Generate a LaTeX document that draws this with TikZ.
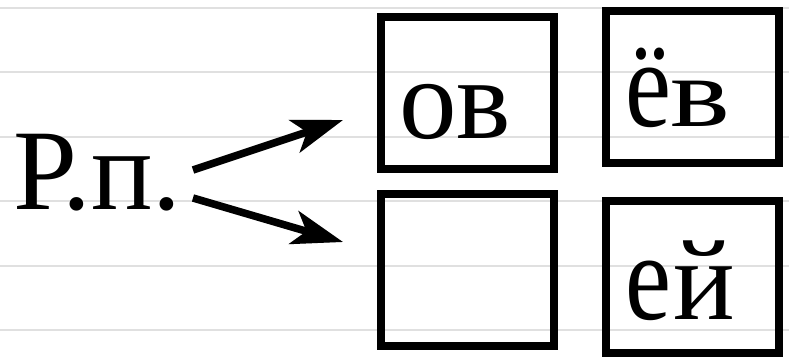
\documentclass[tikz,border=0pt]{standalone}
\usepackage{fontspec}
\usepackage{graphicx}
\setmainfont{Liberation Serif}
\usetikzlibrary{arrows.meta}
\begin{document}
\begin{tikzpicture}[x=1pt,y=-1pt,
  rule/.style={draw=black!12, line width=2.5pt},
  cell/.style={draw=black, line width=8pt, minimum width=173pt, minimum height=152pt, inner sep=0pt, outer sep=0pt},
  big/.style={font=\rmfamily\fontsize{115}{115}\selectfont, inner sep=0pt, outer sep=0pt, anchor=base west},
  arr/.style={line width=7.5pt, -{Stealth[length=51pt,width=34pt,inset=13pt]}},
  arrshadow/.style={arr, draw=black, opacity=0.16, shift={(2pt,-3pt)}}]
\useasboundingbox (0,0) rectangle (789,361);
\fill[white] (0,0) rectangle (789,361);
% ruled paper lines
\foreach \y in {8,72,137,201,266,330}
  \draw[rule] (0,\y) -- (789,\y);
% label
\node[big] (rp) at (13,209) {Р.п.};
% boxes
\node[cell] (b1) at (467.5,93) {};
\node[cell] (b2) at (692.5,87) {};
\node[cell] (b3) at (467.5,270) {};
\node[cell] (b4) at (692.5,277) {};
% texts in boxes
\node[big] (t1) at (399,138) {ов};
\node[big] (t2) at (625,126) {\scalebox{0.9}[1.08]{ё}\scalebox{1.1}[0.86]{в}};
\node[big] (t4) at (625,319) {\scalebox{0.9}[1.08]{е}\kern3pt й};
% arrows
\coordinate (a1s) at (193,170);
\coordinate (a1e) at (343,120);
\coordinate (a2s) at (193,198);
\coordinate (a2e) at (343,242);
\draw[arrshadow] (a1s) -- (a1e);
\draw[arrshadow] (a2s) -- (a2e);
\draw[arr] (a1s) -- (a1e);
\draw[arr] (a2s) -- (a2e);
\end{tikzpicture}
\end{document}
